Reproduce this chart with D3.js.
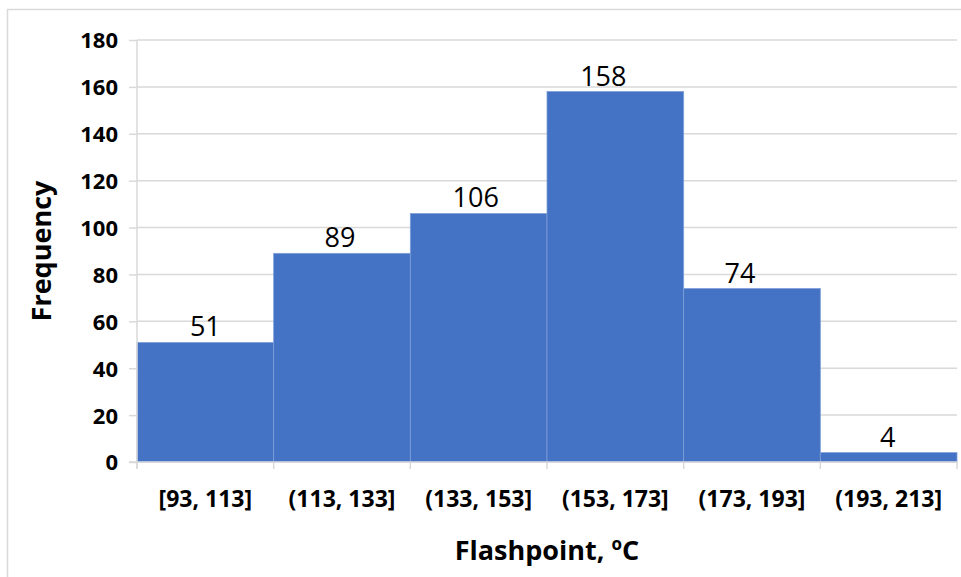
<!DOCTYPE html>
<html><head><meta charset="utf-8">
<script src="https://cdn.jsdelivr.net/npm/d3@7"></script>
<style>
html,body{margin:0;padding:0;background:#fff;}
svg{display:block;}
text{font-family:"Open Sans",sans-serif;}
</style></head>
<body>
<svg id="chart" width="961" height="577"></svg>
<script>
const categories = ["[93, 113]", "(113, 133]", "(133, 153]", "(153, 173]", "(173, 193]", "(193, 213]"];
const frequencies = [51, 89, 106, 158, 74, 4];
const yTicks = [0, 20, 40, 60, 80, 100, 120, 140, 160, 180];
// small horizontal nudges of the data labels as placed in the original
const labelNudge = [0, -2, -3, -12, -12, -1];

const svg = d3.select("#chart");
const W = 961, H = 577;
const m = {left: 137, right: 4, top: 40, bottom: 115};

// outer frame
svg.append("path").attr("d", `M7.5,${H} V9.5 H${W}`).attr("fill","none").attr("stroke","#d9d9d9").attr("stroke-width",1.5);

const x = d3.scaleBand().domain(categories).range([m.left, W - m.right]).paddingInner(0).paddingOuter(0);
const y = d3.scaleLinear().domain([0, 180]).range([H - m.bottom, m.top]);

// gridlines
svg.append("g").selectAll("line").data(yTicks.filter(d=>d>0)).join("line")
  .attr("x1", m.left).attr("x2", W - m.right)
  .attr("y1", d=>y(d)).attr("y2", d=>y(d))
  .attr("stroke","#d9d9d9").attr("stroke-width",1.5);

// bars
svg.append("g").selectAll("rect").data(frequencies).join("rect")
  .attr("x", (d,i)=>x(categories[i]))
  .attr("width", x.bandwidth())
  .attr("y", d=>y(d))
  .attr("height", d=>y(0)-y(d))
  .attr("fill","#4472c4")
  .attr("stroke","#7f9fd8").attr("stroke-width",0.8);

// y axis
const yAxis = d3.axisLeft(y).tickValues(yTicks).tickSize(8).tickPadding(10);
const gy = svg.append("g").attr("transform",`translate(${m.left},0)`).call(yAxis);
gy.select(".domain").attr("stroke","#d9d9d9").attr("stroke-width",1.5).attr("d", `M-8,${y(0)}H0V${y(180)-0}M0,${y(0)}V${y(0)+7}`);
gy.selectAll(".tick line").attr("stroke","#d9d9d9").attr("stroke-width",1.5);
gy.selectAll(".tick text").attr("fill","#000").attr("font-size",22).attr("font-weight","bold")
  .attr("font-family","'Open Sans',sans-serif").attr("x",-19).attr("dy","0.36em");

// x axis
const gx = svg.append("g").attr("transform",`translate(0,${y(0)})`);
gx.append("line").attr("x1",m.left).attr("x2",W-m.right).attr("y1",0).attr("y2",0).attr("stroke","#d9d9d9").attr("stroke-width",1.5);
const bounds = categories.map(c=>x(c)).concat([x(categories[categories.length-1]) + x.bandwidth()]);
gx.selectAll("line.tk").data(bounds).join("line").attr("class","tk")
  .attr("x1",d=>d).attr("x2",d=>d).attr("y1",0).attr("y2",7)
  .attr("stroke","#d9d9d9").attr("stroke-width",1.5);
gx.selectAll("text.lbl").data(categories).join("text").attr("class","lbl")
  .attr("x", d=>x(d)+x.bandwidth()/2).attr("y", 45)
  .attr("text-anchor","middle").attr("font-size",23).attr("font-weight","bold").attr("fill","#000")
  .text(d=>d);

// data labels
svg.append("g").selectAll("text").data(frequencies).join("text")
  .attr("x",(d,i)=>x(categories[i])+x.bandwidth()/2 + labelNudge[i])
  .attr("y", d=>y(d)-6)
  .attr("text-anchor","middle").attr("font-size",27).attr("fill","#000")
  .text(d=>d);

// axis titles
const xt = svg.append("text").attr("x", (m.left + W - m.right)/2).attr("y", 560)
  .attr("text-anchor","middle").attr("font-size",27).attr("font-weight","bold").attr("fill","#000");
xt.append("tspan").text("Flashpoint, ");
xt.append("tspan").attr("font-size",17).attr("dy",-10).text("o");
xt.append("tspan").attr("dy",10).text("C");

svg.append("text").attr("transform",`translate(51,${251}) rotate(-90)`)
  .attr("text-anchor","middle").attr("font-size",27).attr("font-weight","bold").attr("fill","#000")
  .text("Frequency");
</script>
</body></html>
